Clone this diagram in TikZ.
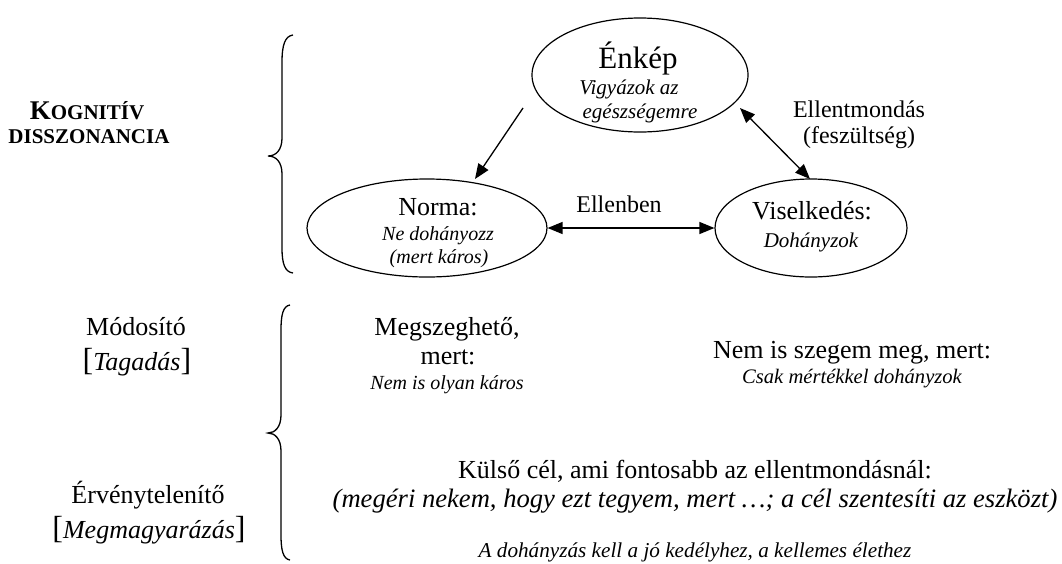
\documentclass[tikz,border=0pt]{standalone}
\usepackage{fontspec}
\setmainfont{Liberation Serif}
\usetikzlibrary{arrows.meta,shapes.geometric}
\tikzset{
  ell/.style={draw, ellipse, line width=1.2pt, inner sep=0pt},
  txt/.style={anchor=base, inner sep=0pt},
  f31/.style={font=\fontsize{31}{36}\selectfont},
  f26/.style={font=\fontsize{26}{30}\selectfont},
  f24/.style={font=\fontsize{24}{28}\selectfont},
  i21/.style={font=\fontsize{21}{25}\selectfont\itshape},
  i20/.style={font=\fontsize{20}{24}\selectfont\itshape},
  i26/.style={font=\fontsize{26.6}{30}\selectfont\itshape},
  conn/.style={line width=1.3pt},
  tip/.style={-{Triangle[length=15pt,width=12pt]}},
  dtip/.style={{Triangle[length=15pt,width=12pt]}-{Triangle[length=15pt,width=12pt]}},
  brc/.style={line width=1.3pt}
}
\newcommand{\bigbr}[1]{{\fontsize{32}{32}\selectfont #1}}
\begin{document}
\begin{tikzpicture}[x=1pt,y=-1pt]
\useasboundingbox (0,0) rectangle (1062,563);

% ellipses
\node[ell, minimum width=216pt, minimum height=114pt] (enk) at (640,75) {};
\node[ell, minimum width=240pt, minimum height=98pt] (norm) at (427,228) {};
\node[ell, minimum width=192pt, minimum height=98pt] (vis) at (811,228) {};

% ellipse texts
\node[txt, f31] (t1) at (638,68) {Énkép};
\node[txt, i21] (t2) at (629,94) {Vigyázok az};
\node[txt, i21] (t3) at (640,118) {egészségemre};
\node[txt, f26] (t4) at (438,215) {Norma:};
\node[txt, i20] (t5) at (438,240) {Ne dohányozz};
\node[txt, i20] (t6) at (439,263) {(mert káros)};
\node[txt, f26] (t7) at (812,219) {Viselkedés:};
\node[txt, i21] (t8) at (811,247) {Dohányzok};

% connector labels
\node[txt, f24] (l1) at (859,117) {Ellentmondás};
\node[txt, f24] (l2) at (859,143) {(feszültség)};
\node[txt, f24] (l3) at (619,212) {Ellenben};

% connectors
\coordinate (a1) at (523,108);
\coordinate (a2) at (475,179);
\coordinate (b1) at (740,108);
\coordinate (b2) at (810,179);
\draw[conn, tip] (a1) -- (a2);
\draw[conn, dtip] (b1) -- (b2);
\draw[conn, dtip] (norm.east) -- (vis.west);

% left labels
\node[txt, font=\bfseries] (k1) at (87,119) {{\fontsize{27}{30}\selectfont K}{\fontsize{21}{24}\selectfont OGNITÍV}};
\node[txt, font=\bfseries\fontsize{21}{24}\selectfont] (k2) at (89,143) {DISSZONANCIA};
\node[txt, f26] (m1) at (136,335) {Módosító};
\node[txt, f26] (m2) at (137,370) {\bigbr{[}\textit{Tagadás}\bigbr{]}};
\node[txt, f26] (e1) at (148,503) {Érvénytelenítő};
\node[txt, f26] (e2) at (149,538) {\bigbr{[}\textit{Megmagyarázás}\bigbr{]}};

% braces
\draw[brc] (293,35) .. controls (285,36) and (282,45) .. (282,62)
  -- (282,138) .. controls (282,150) and (276,156) .. (268,156)
  .. controls (276,156) and (282,162) .. (282,174)
  -- (282,248) .. controls (282,264) and (285,272) .. (293,273);
\draw[brc] (290,305) .. controls (283,306) and (281,315) .. (281,330)
  -- (281,415) .. controls (281,427) and (275,433) .. (268,433)
  .. controls (275,433) and (281,439) .. (281,451)
  -- (281,535) .. controls (281,550) and (283,559) .. (290,560);

% middle texts
\node[txt, f26] (n1) at (447,335) {Megszeghető,};
\node[txt, f26] (n2) at (448,364) {mert:};
\node[txt, i20] (n3) at (447,389) {Nem is olyan káros};
\node[txt, f26] (s1) at (852,358) {Nem is szegem meg, mert:};
\node[txt, font=\fontsize{20.6}{24}\selectfont\itshape] (s2) at (852,383) {Csak mértékkel dohányzok};
\node[txt, f26] (c1) at (695,478) {Külső cél, ami fontosabb az ellentmondásnál:};
\node[txt, i26] (c2) at (695,507) {(megéri nekem, hogy ezt tegyem, mert …; a cél szentesíti az eszközt)};
\node[txt, font=\fontsize{21.2}{24}\selectfont\itshape] (c3) at (695,557) {A dohányzás kell a jó kedélyhez, a kellemes élethez};
\end{tikzpicture}
\end{document}
